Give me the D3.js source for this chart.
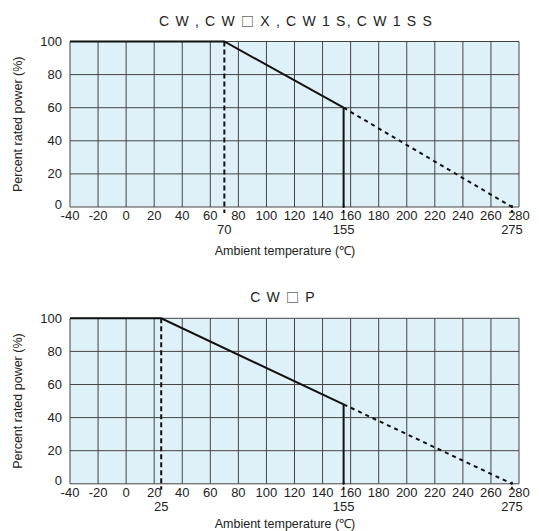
<!DOCTYPE html>
<html>
<head>
<meta charset="utf-8">
<script src="https://cdn.jsdelivr.net/npm/d3@7"></script>
<style>
  body { margin: 0; background: #fff; }
  svg { display: block; font-family: "Liberation Sans", Arial, sans-serif; }
  .grid line { stroke: #444; stroke-width: 1; }
  .tick-label { font-size: 13px; fill: #222; }
  .axis-title { font-size: 12.5px; fill: #222; }
  .chart-title { font-size: 14px; fill: #222; letter-spacing: 1.2px; }
  .box { font-family: "Noto Sans CJK JP", "DejaVu Sans", sans-serif; font-size: 13px; }
</style>
</head>
<body>
<div id="chart"></div>
<script>
// ticks
const tempTicks = [-40, -20, 0, 20, 40, 60, 80, 100, 120, 140, 160, 180, 200, 220, 240, 260, 280];
const powerTicks = [0, 20, 40, 60, 80, 100];

// panel 1: CW, CW□X, CW1S, CW1SS
const title1 = ['C W , C W ', '\u25A1', ' X , C W 1 S, C W 1 S S'];
const solid1 = [[-40, 100], [70, 100], [155, 60]];
const dashed1 = [[155, 60], [275, 0]];
const marks1 = [70, 155, 275];

// panel 2: CW□P
const title2 = ['C W ', '\u25A1', ' P'];
const solid2 = [[-40, 100], [25, 100], [155, 48]];
const dashed2 = [[155, 48], [275, 0]];
const marks2 = [25, 155, 275];

const W = 539, H = 531;
const margin = {left: 70, right: 20};
const width = W - margin.left - margin.right;
const plotH = 165.5;

const panels = [
  {top: 41.5, title: title1, titleX: 296, solid: solid1, dashed: dashed1, marks: marks1},
  {top: 318.3, title: title2, titleX: 283, solid: solid2, dashed: dashed2, marks: marks2}
];

const x = d3.scaleLinear().domain([-40, 280]).range([0, width]);
const y = d3.scaleLinear().domain([0, 100]).range([plotH, 0]);

const svg = d3.select('#chart').append('svg')
  .attr('width', W)
  .attr('height', H);

const line = d3.line()
  .x(d => x(d[0]))
  .y(d => y(d[1]));

panels.forEach(p => {
  const g = svg.append('g')
    .attr('transform', `translate(${margin.left},${p.top})`);

  // title, the square in a CJK font so it gets full width
  const t = svg.append('text')
    .attr('class', 'chart-title')
    .attr('x', p.titleX)
    .attr('y', p.top - 16)
    .attr('text-anchor', 'middle');
  p.title.forEach((s, i) => {
    t.append('tspan')
      .attr('class', i === 1 ? 'box' : null)
      .text(s);
  });

  // background
  g.append('rect')
    .attr('width', width)
    .attr('height', plotH)
    .attr('fill', '#dff1f8');

  // grid
  const grid = g.append('g').attr('class', 'grid');
  grid.selectAll('.v')
    .data(tempTicks)
    .enter().append('line')
    .attr('x1', d => x(d)).attr('x2', d => x(d))
    .attr('y1', 0).attr('y2', plotH);
  grid.selectAll('.h')
    .data(powerTicks)
    .enter().append('line')
    .attr('x1', 0).attr('x2', width)
    .attr('y1', d => y(d)).attr('y2', d => y(d));

  // x tick labels
  g.selectAll('.xl')
    .data(tempTicks)
    .enter().append('text')
    .attr('class', 'tick-label')
    .attr('x', d => x(d))
    .attr('y', plotH + 13)
    .attr('text-anchor', 'middle')
    .text(d => d);

  // y tick labels
  g.selectAll('.yl')
    .data(powerTicks)
    .enter().append('text')
    .attr('class', 'tick-label')
    .attr('x', -8)
    .attr('y', d => y(d) - (d === 0 ? 3 : 0))
    .attr('dy', '0.35em')
    .attr('text-anchor', 'end')
    .text(d => d);

  // secondary labels for knee / limit / zero temperatures
  g.selectAll('.ml')
    .data(p.marks)
    .enter().append('text')
    .attr('class', 'tick-label')
    .attr('x', d => x(d))
    .attr('y', plotH + 27)
    .attr('text-anchor', 'middle')
    .text(d => d);

  // knee: dashed vertical from 100% down past the axis
  const knee = p.marks[0];
  g.append('line')
    .attr('x1', x(knee)).attr('x2', x(knee))
    .attr('y1', y(100)).attr('y2', plotH + 6)
    .attr('stroke', '#111').attr('stroke-width', 2)
    .attr('stroke-dasharray', '5,3');

  // limit temperature: solid vertical down to the axis
  const limit = p.solid[p.solid.length - 1];
  g.append('line')
    .attr('x1', x(limit[0])).attr('x2', x(limit[0]))
    .attr('y1', y(limit[1])).attr('y2', plotH)
    .attr('stroke', '#111').attr('stroke-width', 2);

  // short dashed ticks below the axis at limit and zero temperatures
  g.selectAll('.mt')
    .data(p.marks.slice(1))
    .enter().append('line')
    .attr('x1', d => x(d)).attr('x2', d => x(d))
    .attr('y1', plotH - 2).attr('y2', plotH + 7)
    .attr('stroke', '#111').attr('stroke-width', 1.6)
    .attr('stroke-dasharray', '3,2');

  // derating curve
  g.append('path')
    .datum(p.solid)
    .attr('d', line)
    .attr('fill', 'none')
    .attr('stroke', '#111')
    .attr('stroke-width', 2);

  g.append('path')
    .datum(p.dashed)
    .attr('d', line)
    .attr('fill', 'none')
    .attr('stroke', '#111')
    .attr('stroke-width', 2)
    .attr('stroke-dasharray', '4,4');

  // axis titles (kept inside the bottom edge)
  svg.append('text')
    .attr('class', 'axis-title')
    .attr('x', 285)
    .attr('y', Math.min(p.top + plotH + 48, H - 3))
    .attr('text-anchor', 'middle')
    .text('Ambient temperature (\u2103)');

  svg.append('text')
    .attr('class', 'axis-title')
    .attr('transform', `translate(22,${p.top + plotH / 2}) rotate(-90)`)
    .attr('text-anchor', 'middle')
    .text('Percent rated power (%)');
});
</script>
</body>
</html>
